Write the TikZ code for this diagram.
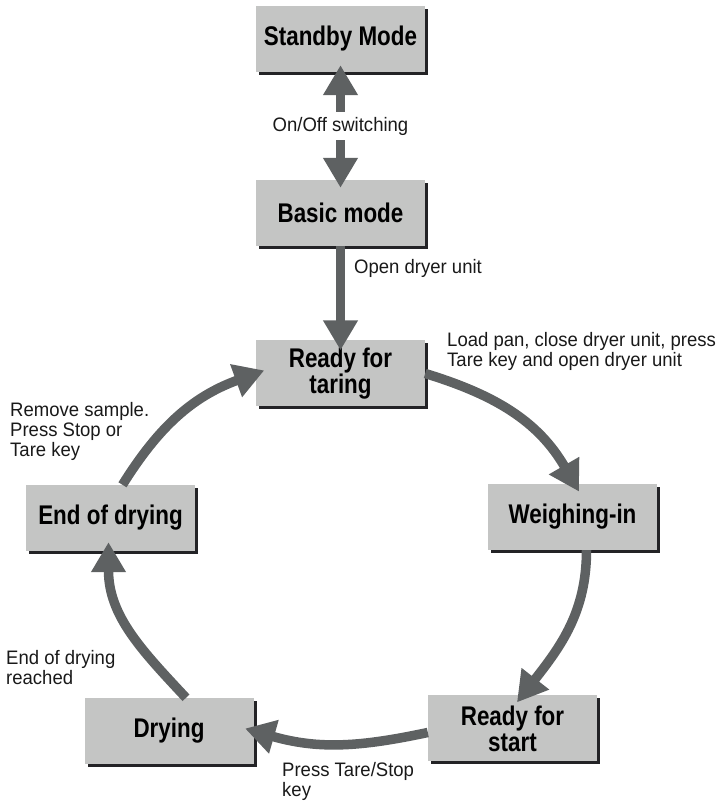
\documentclass[tikz,border=0pt]{standalone}
\usepackage{fontspec}
\setmainfont{Liberation Sans}
\newfontfamily\boxfont[FakeStretch=0.83]{Liberation Sans}
\newfontfamily\lblfont[FakeStretch=0.95]{Liberation Sans}
\usepackage{tikz}
\usetikzlibrary{arrows.meta,shadows}

\definecolor{boxgray}{RGB}{196,197,196}
\definecolor{arrowgray}{RGB}{94,97,98}
\definecolor{shadowgray}{RGB}{35,35,38}

\tikzset{
	state/.style={fill=boxgray,minimum width=169pt,minimum height=66pt,align=center,
		font=\boxfont\bfseries\fontsize{27}{26}\selectfont,
		drop shadow={shadow xshift=3pt,shadow yshift=-3pt,fill=shadowgray,opacity=1}},
	flow/.style={draw=arrowgray,line width=9.5pt,>={Triangle[width=33pt,length=30pt]}},
	lbl/.style={inner sep=0pt,align=left,text=black!90,font=\lblfont\fontsize{19.5}{20}\selectfont}
}

\begin{document}
\begin{tikzpicture}[x=1pt,y=1pt]
	\useasboundingbox (0,0) rectangle (723,803);
	%BOXES
	\node[state] (standby) at (340.5,764) {Standby Mode};
	\node[state] (basic) at (340.5,590) {Basic mode};
	\node[state] (taring) at (340.5,429.5) {Ready for\\taring};
	%
	\node[state] (weighing) at (572.5,286) {Weighing-in};
	\node[state] (start) at (512.5,74.5) {Ready for\\start};
	\node[state] (drying) at (169,72) {Drying};
	\node[state] (enddry) at (110.5,285) {End of drying};

	%ARROWS
	\draw[flow,<->,shorten <=-7pt,shorten >=-8pt] (standby) -- node[lbl,fill=white,inner sep=5pt] (onoff) {On/Off switching} (basic);
	\draw[flow,->,shorten >=-10pt] (basic) -- (taring);
	%
	\draw[flow,->,shorten >=-9pt] (taring.east) to[out=-17,in=120] ([xshift=2pt]weighing.north);
	\draw[flow,->,shorten >=-9pt] ([xshift=14pt]weighing.south) to[out=-90,in=52] ([xshift=10pt]start.north);
	\draw[flow,->,shorten >=-9pt] ([yshift=-4pt]start.west) to[out=192,in=-16] (drying.east);
	\draw[flow,->,shorten >=-9pt] ([xshift=17pt]drying.north) to[out=133,in=-90] ([xshift=-2pt]enddry.south);
	\draw[flow,->,shorten >=-9pt] ([xshift=12pt]enddry.north) to[out=58,in=200] (taring.west);

	%LABELS
	\node[lbl,right] (opendry) at (354,535) {Open dryer unit};
	\node[lbl,right] (loadpan) at (447,452) {Load pan, close dryer unit, press\\Tare key and open dryer unit};
	\node[lbl,right] (remove) at (10,372) {Remove sample.\\Press Stop or\\Tare key};
	\node[lbl,right] (reached) at (6,135) {End of drying\\reached};
	\node[lbl,right] (presstare) at (282,22) {Press Tare/Stop\\key};
\end{tikzpicture}
\end{document}
